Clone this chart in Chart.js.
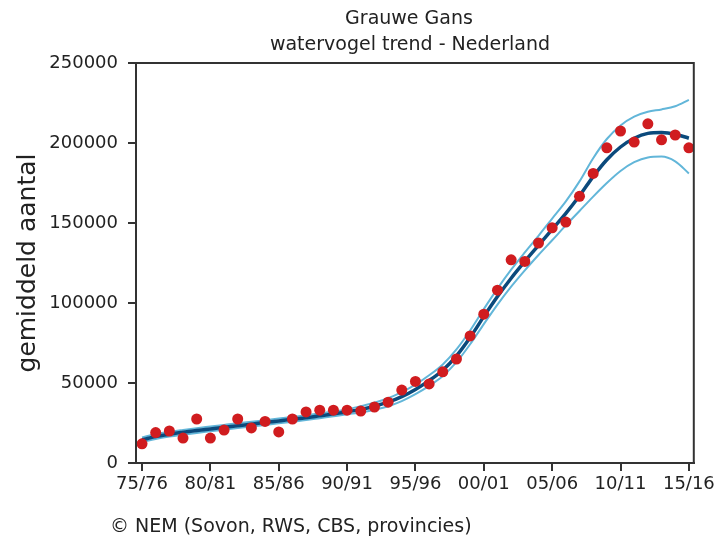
<!DOCTYPE html>
<html>
  <head>
    <style>
      body {
        margin: 0;
        background: #fff;
      }
      #chartContainer {
        width: 718px;
        height: 545px;
      }
    </style>
  </head>

  <body>
    <div id="chartContainer">
      <canvas id="myChart"></canvas>
    </div>

    <script src="https://cdn.jsdelivr.net/npm/chart.js"></script>
    <script>
      const ctx = document.getElementById('myChart');

      seasons = [
        '75/76', '76/77', '77/78', '78/79', '79/80', '80/81', '81/82', '82/83', '83/84', '84/85',
        '85/86', '86/87', '87/88', '88/89', '89/90', '90/91', '91/92', '92/93', '93/94', '94/95',
        '95/96', '96/97', '97/98', '98/99', '99/00', '00/01', '01/02', '02/03', '03/04', '04/05',
        '05/06', '06/07', '07/08', '08/09', '09/10', '10/11', '11/12', '12/13', '13/14', '14/15',
        '15/16'
      ];

      // getelde aantallen per seizoen (rode punten)
      counts = [
        12000, 19000, 20000, 15600, 27500, 15600, 20600, 27500, 21900, 26000,
        19400, 27500, 31900, 33000, 33000, 33000, 32500, 35000, 38000, 45600,
        51000, 49400, 57000, 65000, 79400, 93000, 108000, 127000, 126000, 137500,
        147000, 150600, 166700, 181000, 197000, 207500, 200600, 212000, 202000, 205000,
        197000
      ];

      trend = [
        14500, 16500, 18000, 19200, 20300, 21300, 22300, 23300, 24300, 25300,
        26300, 27300, 28300, 29500, 30700, 32000, 33500, 35500, 38000, 41500,
        46000, 51500, 58000, 67000, 78500, 91500, 104000, 115500, 126000, 136000,
        146000, 156000, 167000, 179000, 189500, 197500, 203000, 206000, 206500, 205500,
        203000
      ];

      upper = [
        16000, 18000, 19500, 20700, 21800, 22800, 23800, 24800, 25800, 26800,
        27800, 28800, 29800, 31000, 32200, 33500, 35500, 37700, 40500, 44300,
        49000, 54800, 61600, 71000, 82800, 96200, 109000, 120800, 131600, 142000,
        152800, 163500, 176000, 190500, 202500, 211000, 216500, 219500, 221000, 223000,
        227000
      ];

      lower = [
        13000, 15000, 16500, 17700, 18800, 19800, 20800, 21800, 22800, 23800,
        24800, 25800, 26800, 28000, 29200, 30500, 31500, 33300, 35500, 38700,
        43000, 48200, 54400, 63000, 74200, 86800, 99000, 110200, 120400, 130000,
        139200, 148500, 157500, 166500, 175000, 182500, 188000, 191000, 191500, 188500,
        181000
      ];

      xTickEvery = 5;
      yMax = 250000;
      yStep = 50000;

      function toPoints(values) {
        return values.map((v, i) => ({ x: i, y: v }));
      }

      const frameAndText = {
        id: 'frameAndText',
        afterDraw(chart) {
          const c = chart.ctx;
          const a = chart.chartArea;
          c.save();
          c.strokeStyle = '#333';
          c.lineWidth = 2;
          c.strokeRect(a.left, a.top, a.right - a.left, a.bottom - a.top);

          c.fillStyle = '#222';
          c.font = '19px "DejaVu Sans"';
          c.textAlign = 'center';
          c.textBaseline = 'middle';
          c.fillText('Grauwe Gans', 409, 19);
          c.fillText('watervogel trend - Nederland', 410, 45);

          c.textAlign = 'left';
          c.fillText('\u00A9 NEM (Sovon, RWS, CBS, provincies)', 110, 527);
          c.restore();
        }
      };

      trendChart = new Chart(ctx, {
        type: 'line',
        data: {
          datasets: [
            {
              label: 'aantal',
              data: toPoints(counts),
              showLine: false,
              pointRadius: 5.5,
              pointBackgroundColor: '#d01c1f',
              pointBorderWidth: 0
            },
            {
              label: 'trend',
              data: toPoints(trend),
              borderColor: '#0b4a7c',
              borderWidth: 3.5,
              pointRadius: 0,
              cubicInterpolationMode: 'monotone'
            },
            {
              label: 'bovengrens',
              data: toPoints(upper),
              borderColor: '#62b6d9',
              borderWidth: 2,
              pointRadius: 0,
              cubicInterpolationMode: 'monotone'
            },
            {
              label: 'ondergrens',
              data: toPoints(lower),
              borderColor: '#62b6d9',
              borderWidth: 2,
              pointRadius: 0,
              cubicInterpolationMode: 'monotone'
            }
          ]
        },
        options: {
          responsive: true,
          maintainAspectRatio: false,
          animation: false,
          layout: {
            padding: { left: 0, right: 22, top: 63, bottom: 37 }
          },
          plugins: {
            legend: { display: false },
            tooltip: { enabled: false },
            title: { display: false }
          },
          scales: {
            x: {
              type: 'linear',
              min: -0.44,
              max: seasons.length - 1 + 0.36,
              afterBuildTicks: (scale) => {
                scale.ticks = seasons
                  .map((s, i) => i)
                  .filter((i) => i % xTickEvery === 0)
                  .map((i) => ({ value: i }));
              },
              afterFit: (scale) => {
                scale.height = 45;
              },
              ticks: {
                autoSkip: false,
                maxRotation: 0,
                padding: 3,
                color: '#222',
                font: { family: 'DejaVu Sans', size: 18 },
                callback: (value) => seasons[value]
              },
              grid: {
                drawOnChartArea: false,
                drawTicks: true,
                tickLength: 8,
                color: '#333',
                lineWidth: 2
              },
              border: { display: true, color: '#333', width: 2 }
            },
            y: {
              min: 0,
              max: yMax,
              afterFit: (scale) => {
                scale.width = 136;
              },
              ticks: {
                stepSize: yStep,
                padding: 10,
                color: '#222',
                font: { family: 'DejaVu Sans', size: 18 },
                callback: (value) => String(value)
              },
              grid: {
                drawOnChartArea: false,
                drawTicks: true,
                tickLength: 8,
                color: '#333',
                lineWidth: 2
              },
              border: { display: true, color: '#333', width: 2 },
              title: {
                display: true,
                text: 'gemiddeld aantal',
                color: '#222',
                padding: { top: 13, bottom: 0 },
                font: { family: 'DejaVu Sans', size: 25 }
              }
            }
          }
        },
        plugins: [frameAndText]
      });
    </script>
  </body>
</html>
